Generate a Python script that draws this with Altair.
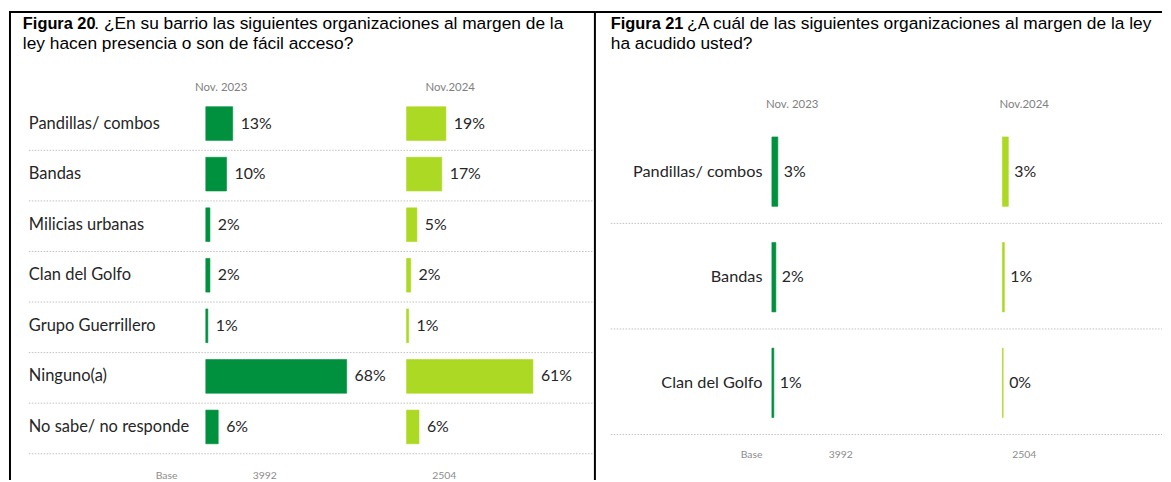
import altair as alt
import pandas as pd

# ---------------- data ----------------
years = ["Nov. 2023", "Nov.2024"]
bases = ["3992", "2504"]

cats_a = ["Pandillas/ combos", "Bandas", "Milicias urbanas", "Clan del Golfo",
          "Grupo Guerrillero", "Ninguno(a)", "No sabe/ no responde"]
a_2023 = [13, 10, 2, 2, 1, 68, 6]
a_2024 = [19, 17, 5, 2, 1, 61, 6]

cats_b = ["Pandillas/ combos", "Bandas", "Clan del Golfo"]
b_2023 = [3, 2, 1]
b_2024 = [3, 1, 0.4]

title_a = ["Figura 20", ". ¿En su barrio las siguientes organizaciones al margen de la",
           "ley hacen presencia o son de fácil acceso?"]
title_b = ["Figura 21", " ¿A cuál de las siguientes organizaciones al margen de la ley",
           "ha acudido usted?"]

# ---------------- style ----------------
DARK = "#00913f"
LIME = "#acd923"
LBL_FONT = "Lato"
TTL_FONT = "Liberation Sans, Arial"
TXT = "#262626"
GREY = "#7f7f7f"
SEP = "#c0c0c0"


def long_df(cats, v23, v24):
    rows = []
    for i, c in enumerate(cats):
        for j, vals in enumerate([v23, v24]):
            rows.append(dict(cat=c, row=i, col=j, year=years[j], value=vals[i]))
    return pd.DataFrame(rows)


def one(t):
    return pd.DataFrame({"t": [t]})


def panel(cats, v23, v24, titles, L):
    W, H = L["W"], L["H"]
    ppu = L["ppu"]
    xdom = [-L["start"] / ppu, (W - L["start"]) / ppu]
    gap_u = L["gap"] / ppu
    ydom = [-L["row0"] / L["step"], (H - L["row0"]) / L["step"]]
    half = L["bar"] / 2 / L["step"]

    xs = alt.Scale(domain=xdom, nice=False, zero=False)
    ys = alt.Scale(domain=ydom, nice=False, zero=False, reverse=True)
    cs = alt.Scale(domain=years, range=[DARK, LIME])

    df = long_df(cats, v23, v24)
    base = alt.Chart(df).transform_calculate(
        start=f"datum.col * {gap_u}",
        end=f"datum.col * {gap_u} + datum.value",
        y1=f"datum.row - {half}",
        y2=f"datum.row + {half}",
        label="format(datum.value, '.0f') + '%'",
    )

    bars = base.mark_rect(strokeWidth=0.6).encode(
        x=alt.X("start:Q", scale=xs, axis=None),
        x2="end:Q",
        y=alt.Y("y1:Q", scale=ys, axis=None),
        y2="y2:Q",
        color=alt.Color("year:N", scale=cs, legend=None),
        stroke=alt.Stroke("year:N", scale=cs, legend=None),
    )
    vals = base.mark_text(align="left", baseline="middle", dx=L["dx"], font=LBL_FONT,
                          fontSize=16, color=TXT).encode(
        x=alt.X("end:Q", scale=xs, axis=None),
        y=alt.Y("row:Q", scale=ys, axis=None),
        text="label:N",
    )

    cdf = pd.DataFrame({"cat": cats, "row": list(range(len(cats)))})
    cat_lbl = alt.Chart(cdf).mark_text(align=L["cat_align"], baseline="middle", font=LBL_FONT,
                                       fontSize=L["fs"], color=TXT).encode(
        x=alt.value(L["cat_x"]),
        y=alt.Y("row:Q", scale=ys, axis=None),
        text="cat:N",
    )
    seps = alt.Chart(cdf).transform_calculate(sep=f"datum.row + {L['sepf']}").mark_rule(
        color=SEP, strokeWidth=1, strokeDash=[1.5, 1.5]).encode(
        y=alt.Y("sep:Q", scale=ys, axis=None),
        x=alt.value(L["sep_x0"]), x2=alt.value(L["sep_x1"]),
    )

    layers = [seps, bars, vals, cat_lbl]

    # column headers
    for yr, hx in zip(years, L["hdr_x"]):
        layers.append(alt.Chart(one(yr)).mark_text(align="center", baseline="middle", font=LBL_FONT,
                                                   fontSize=11.5, color=GREY).encode(
            x=alt.value(hx), y=alt.value(L["hdr_y"]), text="t:N"))
    # base row
    for t, bx in zip(["Base"] + bases, L["base_x"]):
        layers.append(alt.Chart(one(t)).mark_text(align="center", baseline="middle", font=LBL_FONT,
                                                  fontSize=10.5, color="#8c8c8c").encode(
            x=alt.value(bx), y=alt.value(L["base_y"]), text="t:N"))

    # titles
    layers.append(alt.Chart(one(titles[0])).mark_text(align="left", baseline="alphabetic", font=TTL_FONT,
                                                      fontSize=16.5, fontWeight="bold", color="black").encode(
        x=alt.value(L["tx"]), y=alt.value(L["ty1"]), text="t:N"))
    layers.append(alt.Chart(one(titles[1])).mark_text(align="left", baseline="alphabetic", font=TTL_FONT,
                                                      fontSize=17.5, color="black").encode(
        x=alt.value(L["tx2"]), y=alt.value(L["ty1"]), text="t:N"))
    layers.append(alt.Chart(one(titles[2])).mark_text(align="left", baseline="alphabetic", font=TTL_FONT,
                                                      fontSize=17.5, color="black").encode(
        x=alt.value(L["tx"]), y=alt.value(L["ty2"]), text="t:N"))

    # frame lines
    layers.append(alt.Chart(one("")).mark_rule(color="black", strokeWidth=2).encode(
        x=alt.value(0), x2=alt.value(W), y=alt.value(2)))
    for bx in L["vlines"]:
        layers.append(alt.Chart(one("")).mark_rule(color="black", strokeWidth=2).encode(
            x=alt.value(bx), y=alt.value(2), y2=alt.value(H)))

    return alt.layer(*layers).properties(width=W, height=H)


LA = dict(W=592, H=474, ppu=2.09, start=198.5, gap=202.5, row0=114.5, step=51.0, bar=34,
          sepf=0.53, dx=8, fs=16.6, cat_align="left", cat_x=20, sep_x0=20, sep_x1=590,
          hdr_x=[214, 445], hdr_y=79, base_x=[159, 258, 439], base_y=470,
          tx=14, tx2=86, ty1=19.5, ty2=39.5, vlines=[1, 591])
LB = dict(W=571, H=474, ppu=2.0, start=177.5, gap=232.5, row0=163, step=106.5, bar=70,
          sepf=0.49, dx=6, fs=16.4, cat_align="right", cat_x=168, sep_x0=15, sep_x1=571,
          hdr_x=[198, 432], hdr_y=96, base_x=[157, 247, 432], base_y=449,
          tx=15, tx2=92, ty1=19.5, ty2=39.5, vlines=[])

pa = panel(cats_a, a_2023, a_2024, title_a, LA)
pb = panel(cats_b, b_2023, b_2024, title_b, LB)

chart = alt.hconcat(pa, pb, spacing=0, bounds="flush").properties(padding=0).configure_view(
    stroke=None).resolve_scale(color="shared")

chart.save("out.html", embed_options={"renderer": "svg", "actions": False})
